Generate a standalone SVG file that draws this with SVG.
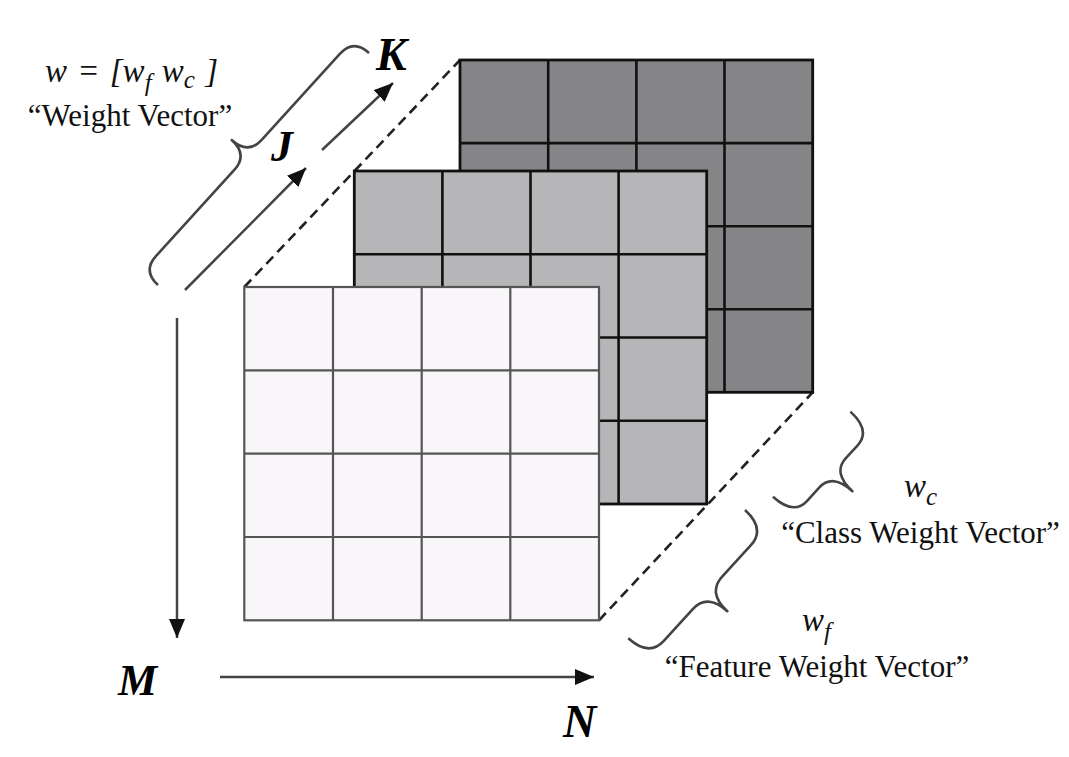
<svg xmlns="http://www.w3.org/2000/svg" width="1069" height="757" viewBox="0 0 1069 757">
<style>
  .txt{font-family:"Liberation Serif","Times New Roman",serif;fill:#111}
  .it{font-style:italic}
  .axis{font-family:"Liberation Serif","Times New Roman",serif;font-style:italic;font-weight:bold;fill:#000}
  .back{fill:#858487;stroke:#111;stroke-width:2.8}
  .mid{fill:#b6b5b8;stroke:#111;stroke-width:2.8}
  .front{fill:#f8f6f8;stroke:#555;stroke-width:2.2}
  .gl-dark{stroke:#111;stroke-width:2.6;fill:none}
  .gl-front{stroke:#555;stroke-width:2.2;fill:none}
  .dash{stroke:#222;stroke-width:2.6;stroke-dasharray:10 6;fill:none}
  .arrow{stroke:#444;stroke-width:2.5;fill:none}
  .brace{stroke:#444;stroke-width:2.6;fill:none;stroke-linejoin:round}
</style>
<defs>
  <marker id="ah" markerUnits="userSpaceOnUse" markerWidth="20" markerHeight="16" refX="19" refY="8" orient="auto">
    <path d="M0,0 L19,8 L0,16 Z" fill="#111"/>
  </marker>
</defs>
<rect width="1069" height="757" fill="#ffffff"/>

<g id="connectors">
  <line class="dash" x1="244.3" y1="287" x2="460" y2="60"/>
  <line class="dash" x1="599" y1="620.3" x2="812.7" y2="392.3"/>
  <line class="arrow" x1="185" y1="290" x2="306" y2="168" marker-end="url(#ah)"/>
  <line class="arrow" x1="322" y1="150" x2="393" y2="83" marker-end="url(#ah)"/>
  <line class="arrow" x1="177" y1="318" x2="177" y2="638" marker-end="url(#ah)"/>
  <line class="arrow" x1="220" y1="677" x2="594" y2="677" marker-end="url(#ah)"/>
  <path class="brace" transform="translate(158,285) rotate(-47.7)" d="M0,0 Q0,-21 20,-21 L136.8,-21 Q156.8,-21 156.8,-43 Q156.8,-21 176.8,-21 L293.6,-21 Q313.6,-21 313.6,0"/>
  <path class="brace" transform="translate(773,496.7) rotate(-47.7)" d="M0,0 Q0,28 20,28 L37.5,28 Q57.5,28 57.5,55 Q57.5,28 77.5,28 L95,28 Q115,28 115,0"/>
  <path class="brace" transform="translate(628.3,638.3) rotate(-47.7)" d="M0,0 Q0,28 22,28 L64.7,28 Q86.7,28 86.7,55 Q86.7,28 108.7,28 L151.4,28 Q173.4,28 173.4,0"/>
</g>

<g id="grid-back">
  <rect class="back" x="460" y="60" width="352.7" height="332.3"/>
  <path class="gl-dark" d="M548.2,60 V392.3 M636.4,60 V392.3 M724.5,60 V392.3 M460,143.1 H812.7 M460,226.2 H812.7 M460,309.2 H812.7"/>
</g>

<g id="grid-middle">
  <rect class="mid" x="354.3" y="171" width="352.4" height="333"/>
  <path class="gl-dark" d="M442.4,171 V504 M530.5,171 V504 M618.6,171 V504 M354.3,254.25 H706.7 M354.3,337.5 H706.7 M354.3,420.75 H706.7"/>
</g>

<g id="grid-front">
  <rect class="front" x="244.3" y="287" width="354.7" height="333.3"/>
  <path class="gl-front" d="M333,287 V620.3 M421.7,287 V620.3 M510.3,287 V620.3 M244.3,370.3 H599 M244.3,453.7 H599 M244.3,537 H599"/>
</g>

<g id="label-weight">
  <text class="txt it" x="45" y="82" font-size="33" word-spacing="2">w = [w<tspan font-size="25" dy="9">f</tspan><tspan dy="-9"> w</tspan><tspan font-size="25" dy="6">c</tspan><tspan dy="-6"> ]</tspan></text>
  <text class="txt" x="130" y="126" font-size="31" text-anchor="middle">“Weight Vector”</text>
</g>

<g id="label-class">
  <text class="txt it" x="904" y="497" font-size="33">w<tspan font-size="25" dy="8">c</tspan></text>
  <text class="txt" x="920.5" y="543" font-size="31" text-anchor="middle">“Class Weight Vector”</text>
</g>

<g id="label-feature">
  <text class="txt it" x="802" y="631" font-size="33">w<tspan font-size="25" dy="9">f</tspan></text>
  <text class="txt" x="817" y="677" font-size="31" text-anchor="middle">“Feature Weight Vector”</text>
</g>

<g id="axis-labels">
  <text class="axis" x="376" y="70" font-size="46">K</text>
  <text class="axis" x="271" y="161" font-size="44">J</text>
  <text class="axis" x="118" y="695" font-size="44">M</text>
  <text class="axis" x="563" y="737" font-size="46">N</text>
</g>
</svg>
